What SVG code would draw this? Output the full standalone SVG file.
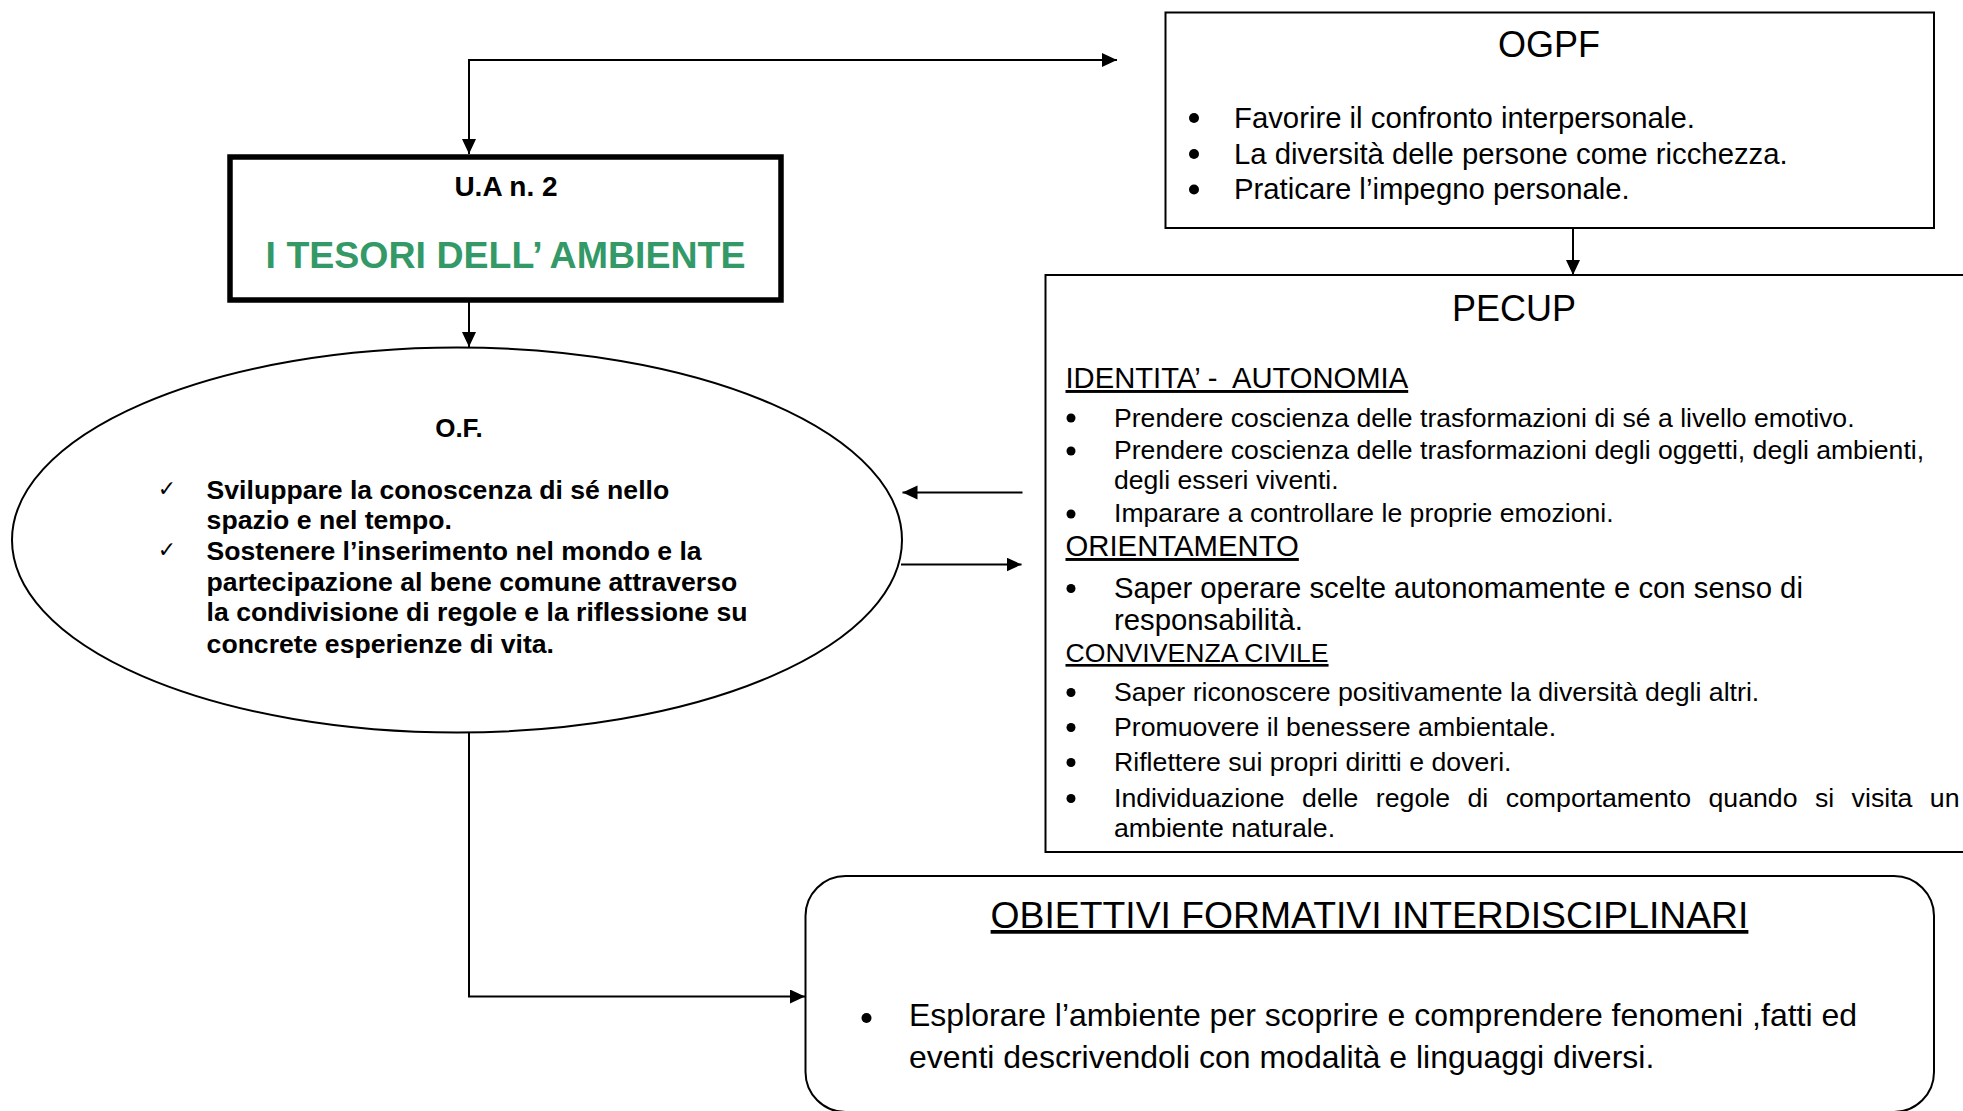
<svg xmlns="http://www.w3.org/2000/svg" width="1963" height="1111" viewBox="0 0 1963 1111">
<style>
  text { font-family: "Liberation Sans", Arial, sans-serif; fill: #000; }
  .b { font-weight: bold; }
  .mid { text-anchor: middle; }
  .u { text-decoration: underline; }
  .box { fill: #fff; stroke: #000; stroke-width: 2; }
  .conn { fill: none; stroke: #000; stroke-width: 2; }
  .dot { fill: #000; }
</style>
<defs>
  <marker id="ah" markerUnits="userSpaceOnUse" markerWidth="16" markerHeight="15" refX="15" refY="7" orient="auto-start-reverse">
    <path d="M0,0 L15,7 L0,14 z" fill="#000"/>
  </marker>
</defs>

<g id="ua">
  <rect x="230" y="157" width="551" height="143" fill="#fff" stroke="#000" stroke-width="5.5"/>
  <text class="b mid" x="506" y="195.5" font-size="28">U.A n. 2</text>
  <text class="b mid" x="505.5" y="268" font-size="37.5" style="fill:#339966">I TESORI DELL’ AMBIENTE</text>
</g>

<g id="of">
  <ellipse cx="457" cy="540" rx="445" ry="192.5" fill="#fff" stroke="#000" stroke-width="2"/>
  <text class="b mid" x="459" y="437" font-size="26">O.F.</text>
  <text x="167" y="496" font-size="22" class="mid" style="font-family:'DejaVu Sans',sans-serif">✓</text>
  <text x="167" y="557" font-size="22" class="mid" style="font-family:'DejaVu Sans',sans-serif">✓</text>
  <g class="b" font-size="26.6">
    <text x="206.6" y="498.5">Sviluppare la conoscenza di sé nello</text>
    <text x="206.6" y="528.5">spazio e nel tempo.</text>
    <text x="206.6" y="560">Sostenere l’inserimento nel mondo e la</text>
    <text x="206.6" y="591">partecipazione al bene comune attraverso</text>
    <text x="206.6" y="621">la condivisione di regole e la riflessione su</text>
    <text x="206.6" y="652.5">concrete esperienze di vita.</text>
  </g>
</g>

<g id="ogpf">
  <rect class="box" x="1165.5" y="12.5" width="768.5" height="215.5"/>
  <text class="mid" x="1549" y="57" font-size="36">OGPF</text>
  <circle class="dot" cx="1194" cy="118" r="5"/>
  <circle class="dot" cx="1194" cy="154" r="5"/>
  <circle class="dot" cx="1194" cy="189.5" r="5"/>
  <g font-size="29.3">
    <text x="1234" y="127.5">Favorire il confronto interpersonale.</text>
    <text x="1234" y="163.5">La diversità delle persone come ricchezza.</text>
    <text x="1234" y="199">Praticare l’impegno personale.</text>
  </g>
</g>

<g id="pecup">
  <rect class="box" x="1045.5" y="275" width="940" height="577"/>
  <text class="mid" x="1514" y="321" font-size="36">PECUP</text>
  <text class="u" x="1065.5" y="388" font-size="29.2" xml:space="preserve">IDENTITA’ -  AUTONOMIA</text>
  <circle class="dot" cx="1071" cy="418" r="4.5"/>
  <circle class="dot" cx="1071" cy="451" r="4.5"/>
  <circle class="dot" cx="1071" cy="514" r="4.5"/>
  <g font-size="26.6">
    <text x="1114" y="426.5">Prendere coscienza delle trasformazioni di sé a livello emotivo.</text>
    <text x="1114" y="459">Prendere coscienza delle trasformazioni degli oggetti, degli ambienti,</text>
    <text x="1114" y="489">degli esseri viventi.</text>
    <text x="1114" y="522">Imparare a controllare le proprie emozioni.</text>
  </g>
  <text class="u" x="1065.5" y="556" font-size="29.3">ORIENTAMENTO</text>
  <circle class="dot" cx="1071" cy="588.5" r="4.5"/>
  <text x="1114" y="598" font-size="29.3">Saper operare scelte autonomamente e con senso di</text>
  <text x="1114" y="630" font-size="29.3">responsabilità.</text>
  <text class="u" x="1065.5" y="662" font-size="26.6">CONVIVENZA CIVILE</text>
  <circle class="dot" cx="1071" cy="692.5" r="4.5"/>
  <circle class="dot" cx="1071" cy="727.5" r="4.5"/>
  <circle class="dot" cx="1071" cy="762.5" r="4.5"/>
  <circle class="dot" cx="1071" cy="798.5" r="4.5"/>
  <g font-size="26.7">
    <text x="1114" y="701">Saper riconoscere positivamente la diversità degli altri.</text>
    <text x="1114" y="736">Promuovere il benessere ambientale.</text>
    <text x="1114" y="771">Riflettere sui propri diritti e doveri.</text>
    <text x="1114" y="807" word-spacing="10">Individuazione delle regole di comportamento quando si visita un</text>
    <text x="1114" y="837">ambiente naturale.</text>
  </g>
</g>

<g id="ofi">
  <rect class="box" x="805.5" y="876" width="1128.5" height="236" rx="40" ry="40"/>
  <text class="mid u" x="1369.5" y="928" font-size="37.3">OBIETTIVI FORMATIVI INTERDISCIPLINARI</text>
  <circle class="dot" cx="866.5" cy="1018" r="5"/>
  <text x="909" y="1026" font-size="32">Esplorare l’ambiente per scoprire e comprendere fenomeni ,fatti ed</text>
  <text x="909" y="1068" font-size="32">eventi descrivendoli con modalità e linguaggi diversi.</text>
</g>

<g id="connectors">
  <path class="conn" d="M469,154 V60 H1117" marker-start="url(#ah)" marker-end="url(#ah)"/>
  <path class="conn" d="M469,301 V347" marker-end="url(#ah)"/>
  <path class="conn" d="M1573,228 V275" marker-end="url(#ah)"/>
  <path class="conn" d="M1022.5,492.5 H902.5" marker-end="url(#ah)"/>
  <path class="conn" d="M901,564.5 H1021.5" marker-end="url(#ah)"/>
  <path class="conn" d="M469,732.5 V996.5 H805" marker-end="url(#ah)"/>
</g>
</svg>
